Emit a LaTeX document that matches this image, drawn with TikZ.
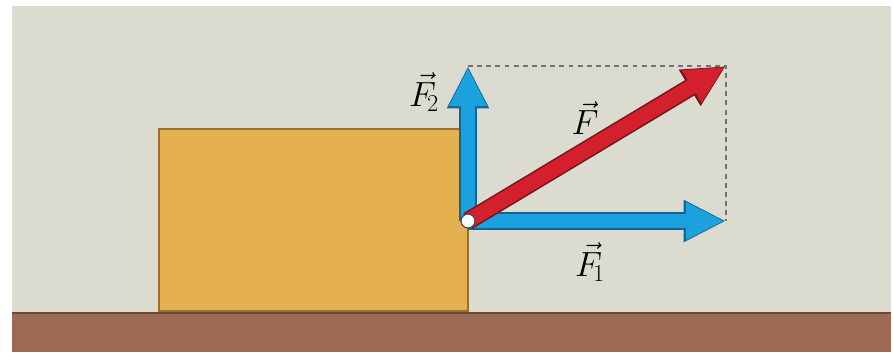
\documentclass[tikz,border=0pt]{standalone}
\usepackage{tikz}
\usetikzlibrary{arrows.meta}
\definecolor{wallcolor}{RGB}{220,219,208}
\definecolor{groundcolor}{RGB}{157,107,85}
\definecolor{groundedge}{RGB}{108,72,52}
\definecolor{blockcolor}{RGB}{228,176,80}
\definecolor{blockedge}{RGB}{150,112,50}
\definecolor{forcecolor}{RGB}{27,161,221}
\definecolor{forceedge}{RGB}{18,100,150}
\definecolor{resultcolor}{RGB}{212,32,45}
\definecolor{resultedge}{RGB}{120,22,28}

\begin{document}
\begin{tikzpicture}[
    x=0.025cm, y=-0.025cm,
    outer/.style={line width=0.45cm, -{Triangle[length=1.06cm, width=0.98cm]}},
    inner/.style={line width=0.37cm, shorten >=0.04cm, -{Triangle[length=0.96cm, width=0.87cm]}},
    block/.style={draw=blockedge, fill=blockcolor, line width=0.05cm, inner sep=0pt},
    pivot/.style={circle, draw=black!70, fill=white, line width=0.03cm, minimum size=0.35cm, inner sep=0pt},
    helper/.style={draw=black!55, line width=0.03cm, dash pattern=on 3.5pt off 3pt},
    forcelabel/.style={font=\fontsize{26}{30}\selectfont, inner sep=1pt},
]
    % Frame and scene
    \useasboundingbox (0,0) rectangle (894,353);
    \fill[white] (0,0) rectangle (894,353);
    \fill[wallcolor] (12,6) rectangle (891,312);
    \fill[groundcolor] (12,312) rectangle (891,352);
    \draw[groundedge, line width=0.06cm] (12,313) -- (891,313);

    % Block
    \node[block, anchor=south west, minimum width=7.725cm, minimum height=4.55cm] (box) at (158,312) {};

    % Points
    \coordinate (O) at (468,221);
    \coordinate (F1tip) at (726,221);
    \coordinate (F2tip) at (468,66);
    \coordinate (Ftip) at (F1tip |- F2tip);

    % Parallelogram
    \draw[helper] (F2tip) -| (F1tip);

    % Components
    \draw[outer, forceedge] (O) -- (F1tip);
    \draw[inner, forcecolor] (O) -- (F1tip);
    \draw[outer, forceedge] (O) -- (F2tip);
    \draw[inner, forcecolor] (O) -- (F2tip);

    % Resultant
    \draw[outer, resultedge] (O) -- (Ftip);
    \draw[inner, resultcolor] (O) -- (Ftip);

    \node[pivot] (origin) at (O) {};

    % Labels
    \node[forcelabel] (F2label) at (424,92) {$\vec{F}_{\!2}$};
    \node[forcelabel] (Flabel) at (585,118) {$\vec{F}$};
    \node[forcelabel] (F1label) at (590,262) {$\vec{F}_{\!1}$};
\end{tikzpicture}
\end{document}
